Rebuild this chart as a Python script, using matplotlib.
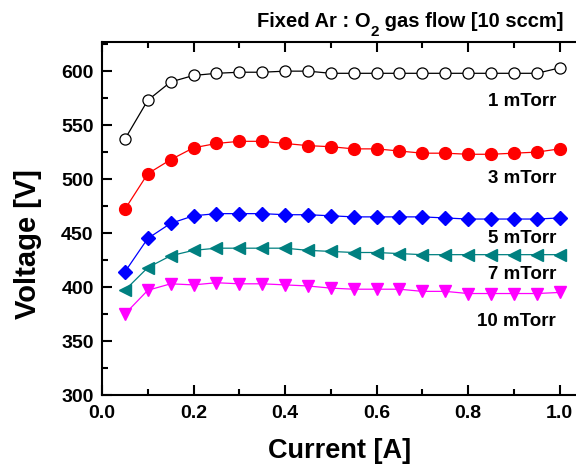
import matplotlib
matplotlib.use("Agg")
import matplotlib.pyplot as plt
from matplotlib.ticker import MultipleLocator, FormatStrFormatter

plt.rcParams["font.family"] = ["Liberation Sans", "DejaVu Sans"]
plt.rcParams["font.weight"] = "bold"

current = [0.05, 0.10, 0.15, 0.20, 0.25, 0.30, 0.35, 0.40, 0.45, 0.50,
           0.55, 0.60, 0.65, 0.70, 0.75, 0.80, 0.85, 0.90, 0.95, 1.00]

v_1mtorr = [537, 573, 590, 596, 598, 599, 599, 600, 600, 598,
            598, 598, 598, 598, 598, 598, 598, 598, 598, 603]
v_3mtorr = [472, 505, 518, 529, 533, 535, 535, 533, 531, 530,
            528, 528, 526, 524, 524, 523, 523, 524, 525, 528]
v_5mtorr = [414, 445, 459, 466, 468, 468, 468, 467, 467, 466,
            465, 465, 465, 465, 464, 463, 463, 463, 463, 464]
v_7mtorr = [397, 418, 429, 434, 436, 436, 436, 436, 434, 433,
            432, 432, 431, 430, 430, 430, 430, 430, 430, 430]
v_10mtorr = [375, 397, 403, 402, 404, 403, 403, 402, 401, 399,
             398, 398, 398, 396, 396, 394, 394, 394, 394, 395]

labels = ["1 mTorr", "3 mTorr", "5 mTorr", "7 mTorr", "10 mTorr"]
label_y = [572, 501, 445, 412, 368]

fig = plt.figure(figsize=(5.76, 4.65), dpi=100)
ax = fig.add_axes([102 / 576, 70 / 465, 476 / 576, 353 / 465])

ax.plot(current, v_1mtorr, "-o", color="black", mfc="white", mec="black",
        ms=8, lw=0.9, mew=0.9)
ax.plot(current, v_3mtorr, "-o", color="red", ms=8.5, lw=0.9)
ax.plot(current, v_5mtorr, "-D", color="blue", ms=7, lw=0.9)
ax.plot(current, v_7mtorr, "-<", color="#008080", ms=9, lw=0.9)
ax.plot(current, v_10mtorr, "-v", color="magenta", ms=9, lw=0.9)

for lab, y in zip(labels, label_y):
    ax.text(0.992, y, lab, ha="right", va="center", fontsize=13.5, fontweight="bold")

ax.set_xlim(0, 1.04)
ax.set_ylim(300, 627)
ax.xaxis.set_major_locator(MultipleLocator(0.2))
ax.xaxis.set_minor_locator(MultipleLocator(0.1))
ax.yaxis.set_major_locator(MultipleLocator(50))
ax.yaxis.set_minor_locator(MultipleLocator(25))
ax.xaxis.set_major_formatter(FormatStrFormatter("%.1f"))

ax.tick_params(which="both", direction="in", top=True, right=False, width=1.5,
               labelsize=14)
ax.tick_params(which="major", length=7)
ax.tick_params(which="minor", length=4)
ax.tick_params(axis="x", pad=7)
ax.tick_params(axis="y", pad=6)
for side in ["left", "bottom", "top"]:
    ax.spines[side].set_linewidth(1.5)
ax.spines["right"].set_visible(False)

fig.text(340 / 576, 1 - 451 / 465, "Current [A]", ha="center", va="center",
         fontsize=19.5, fontweight="bold")
fig.text(28 / 576, 1 - 244 / 465, "Voltage [V]", ha="center", va="center",
         rotation=90, fontsize=21, fontweight="bold")

# title with a hand-placed subscript
fig.canvas.draw()
renderer = fig.canvas.get_renderer()
base_y = 1 - 27 / 465
x0 = 257 / 576
t1 = fig.text(x0, base_y, "Fixed Ar : O", ha="left", va="baseline",
              fontsize=14.5, fontweight="bold")
w1 = t1.get_window_extent(renderer).width
t2 = fig.text(x0 + w1 / 576, base_y - 9 / 465, "2", ha="left",
              va="baseline", fontsize=11, fontweight="bold")
w2 = t2.get_window_extent(renderer).width
fig.text(x0 + (w1 + w2) / 576, base_y, " gas flow [10 sccm]", ha="left",
         va="baseline", fontsize=14.5, fontweight="bold")

fig.savefig("out.png", dpi=100)
